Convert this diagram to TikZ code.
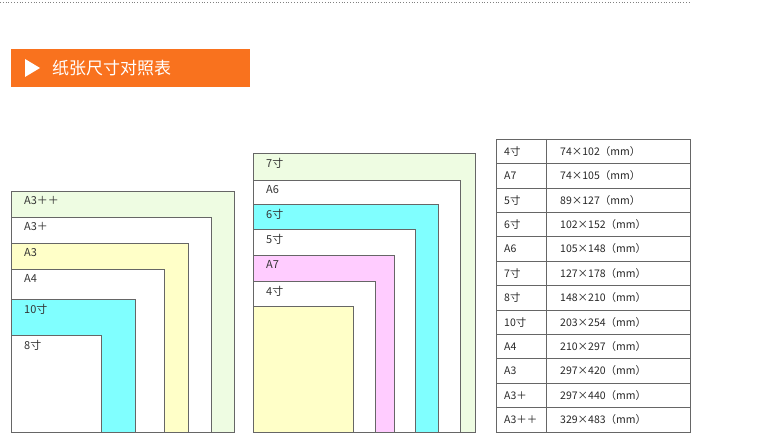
\documentclass[tikz,border=0pt]{standalone}
\usepackage{fontspec}
\setmainfont{Noto Sans CJK SC}
\begin{document}
\begin{tikzpicture}[x=1pt,y=-1pt,
  pap/.style={draw=black!60,line width=0.6pt},
  lab/.style={anchor=north west,font=\fontsize{11}{12}\selectfont,text=black!80,inner sep=0pt},
  cell/.style={font=\fontsize{10.5}{12}\selectfont,text=black!85,inner sep=0pt}]
\definecolor{lg}{HTML}{EEFCE2}\definecolor{ly}{HTML}{FFFFC8}
\definecolor{cy}{HTML}{80FFFF}\definecolor{pk}{HTML}{FFCCFF}\definecolor{og}{HTML}{F9721E}
\useasboundingbox (0,0) rectangle (782,443);
\draw[black!50,dotted,line width=0.8pt] (0,2) -- (690,2);
\node[fill=og,minimum width=239,minimum height=38,anchor=north west,inner sep=0] (hdr) at (11,49) {};
\fill[white] (25,59) -- (25,77) -- (40,68) -- cycle;
\node[anchor=west,text=white,font=\fontsize{17}{20}\selectfont,inner sep=0] (title) at (52,68) {纸张尺寸对照表};
% left stack
\foreach \r/\t/\c/\l in {234/191/lg/A3＋＋,211/217/white/A3＋,188/243/ly/A3,164/269/white/A4,135/299/cy/10寸,101/335/white/8寸}{
  \draw[pap,fill=\c] (11,432) rectangle (\r,\t);
  \node[lab] at (24,\t+5) {\l};}
% middle stack
\foreach \r/\t/\c/\l in {475/153/lg/7寸,460/180/white/A6,438/204/cy/6寸,415/229/white/5寸,394/255/pk/A7,375/281/white/4寸,353/306/ly/{}}{
  \draw[pap,fill=\c] (253,432) rectangle (\r,\t);
  \node[lab] at (266,\t+5) {\l};}
% table
\draw[black!60,line width=0.6pt] (496,139) rectangle (690,432);
\draw[black!60,line width=0.6pt] (546,139) -- (546,432);
\foreach \i/\a/\b in {0/4寸/74×102（mm）,1/A7/74×105（mm）,2/5寸/89×127（mm）,3/6寸/102×152（mm）,4/A6/105×148（mm）,5/7寸/127×178（mm）,6/8寸/148×210（mm）,7/10寸/203×254（mm）,8/A4/210×297（mm）,9/A3/297×420（mm）,10/A3＋/297×440（mm）,11/A3＋＋/329×483（mm）}{
  \pgfmathsetmacro\yy{139+24.42*\i}
  \ifnum\i>0 \draw[black!60,line width=0.6pt] (496,\yy) -- (690,\yy);\fi
  \node[cell,anchor=west] at (504,\yy+12.2) {\a};
  \node[cell,anchor=west] at (560,\yy+12.2) {\b};}
\end{tikzpicture}
\end{document}
